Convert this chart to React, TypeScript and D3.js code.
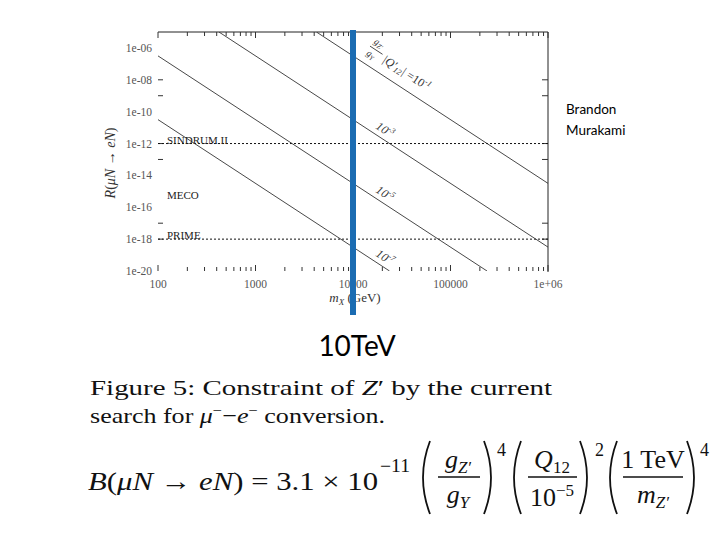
import React from "react";
import * as d3 from "d3";

// ---- data ----
const massMajor = [100, 1000, 10000, 100000, 1000000];
const massLabels = ["100", "1000", "10000", "100000", "1e+06"];
const rateMajor = [1e-6, 1e-8, 1e-10, 1e-12, 1e-14, 1e-16, 1e-18, 1e-20];
const rateLabels = ["1e-06", "1e-08", "1e-10", "1e-12", "1e-14", "1e-16", "1e-18", "1e-20"];
const rateTickMarks = [1e-8, 1e-9, 1e-12, 1e-13, 1e-17, 1e-18];

const couplingExp = ["-1", "-3", "-5", "-7"];
const lineStartMass = [4217, 422, 100, 100];
const lineStartRate = [1e-5, 1e-5, 3.16e-7, 3.16e-11];
const lineEndMass = [1e6, 1e6, 2.37e5, 2.37e4];
const lineEndRate = [3.16e-15, 3.16e-19, 1e-20, 1e-20];
const labelMass = [29000, 19000, 19000, 19000];

const experiments = ["SINDRUM II", "MECO", "PRIME"];
const experimentRate = [1e-12, 1e-16, 1e-18];
const experimentDotted = [true, false, true];
const markerMass = 10000;

// ---- layout ----
const W = 720;
const H = 540;
const X0 = 158, X1 = 548, Y0 = 271, Y1 = 32;
const serif = "'Liberation Serif', 'Times New Roman', serif";
const sans = "Lato, 'Open Sans', sans-serif";

const x = d3.scaleLog().domain([100, 1e6]).range([X0, X1]);
const y = d3.scaleLog().domain([1e-20, 1e-5]).range([Y0, Y1]);

function minorMasses(): number[] {
  const out: number[] = [];
  for (let e = 2; e < 6; e++) for (let k = 1; k < 10; k++) out.push(k * Math.pow(10, e));
  out.push(1e6);
  return out;
}

function Paren({ x0, top, bottom, open }: { x0: number; top: number; bottom: number; open: boolean }) {
  const mid = (top + bottom) / 2;
  const d = open
    ? `M${x0 + 9},${top} Q${x0 - 5},${mid} ${x0 + 9},${bottom}`
    : `M${x0},${top} Q${x0 + 14},${mid} ${x0},${bottom}`;
  return <path d={d} fill="none" stroke="#111" strokeWidth={1.8} />;
}

export default function App() {
  const line = d3
    .line<[number, number]>()
    .x((d) => x(d[0]))
    .y((d) => y(d[1]));

  const slopeAngle = (i: number) => {
    const dx = x(lineEndMass[i]) - x(lineStartMass[i]);
    const dy = y(lineEndRate[i]) - y(lineStartRate[i]);
    return (Math.atan2(dy, dx) * 180) / Math.PI;
  };
  const rateAt = (i: number, m: number) => {
    const lm0 = Math.log10(lineStartMass[i]);
    const lm1 = Math.log10(lineEndMass[i]);
    const lr0 = Math.log10(lineStartRate[i]);
    const lr1 = Math.log10(lineEndRate[i]);
    const t = (Math.log10(m) - lm0) / (lm1 - lm0);
    return Math.pow(10, lr0 + t * (lr1 - lr0));
  };

  const minors = minorMasses();

  return (
    <svg
      width={W}
      height={H}
      style={{ position: "absolute", left: 0, top: 0, background: "#fff" }}
      fontFamily={serif}
    >
      <rect x={0} y={0} width={W} height={H} fill="#fff" />
      <defs>
        <clipPath id="plotClip">
          <rect x={X0} y={Y1} width={X1 - X0} height={Y0 - Y1} />
        </clipPath>
      </defs>

      {/* frame: top and right */}
      <line x1={X0} x2={X1} y1={Y1} y2={Y1} stroke="#222" strokeWidth={1} />
      <line x1={X1} x2={X1} y1={Y1} y2={Y0 + 1} stroke="#222" strokeWidth={1} />

      {/* top & bottom ticks */}
      {minors.map((m, i) => {
        const major = massMajor.includes(m);
        const len = major ? 6 : 4;
        return (
          <g key={"mt" + i}>
            <line x1={x(m)} x2={x(m)} y1={Y1} y2={Y1 + len} stroke="#333" strokeWidth={1} />
            <line x1={x(m)} x2={x(m)} y1={Y0} y2={Y0 - len} stroke="#333" strokeWidth={1} />
          </g>
        );
      })}

      {/* left & right ticks */}
      {rateTickMarks.map((r, i) => (
        <g key={"rt" + i}>
          <line x1={X0} x2={X0 + 5} y1={y(r)} y2={y(r)} stroke="#333" strokeWidth={1} />
          <line x1={X1} x2={X1 - 6} y1={y(r)} y2={y(r)} stroke="#333" strokeWidth={1} />
        </g>
      ))}

      {/* y tick labels */}
      {rateMajor.map((r, i) => (
        <text key={"yl" + i} x={152} y={y(r) + 4} textAnchor="end" fontSize={11.5} fill="#555">
          {rateLabels[i]}
        </text>
      ))}

      {/* x tick labels */}
      {massMajor.map((m, i) => (
        <text key={"xl" + i} x={x(m)} y={288} textAnchor="middle" fontSize={11.5} fill="#555">
          {massLabels[i]}
        </text>
      ))}

      {/* axis titles */}
      <text x={355} y={302} textAnchor="middle" fontSize={13} fill="#333">
        <tspan fontStyle="italic">m</tspan>
        <tspan fontStyle="italic" fontSize={9} dy={3}>X</tspan>
        <tspan dy={-3}> (GeV)</tspan>
      </text>
      <text transform="translate(115,163) rotate(-90)" textAnchor="middle" fontSize={14} fill="#333">
        <tspan fontStyle="italic">R</tspan>
        <tspan>(</tspan>
        <tspan fontStyle="italic">μN</tspan>
        <tspan> → </tspan>
        <tspan fontStyle="italic">eN</tspan>
        <tspan>)</tspan>
      </text>

      {/* experiment limits */}
      {experiments.map((name, i) => (
        <g key={"ex" + i}>
          {experimentDotted[i] && (
            <line
              x1={X0}
              x2={X1}
              y1={y(experimentRate[i])}
              y2={y(experimentRate[i])}
              stroke="#111"
              strokeWidth={1}
              strokeDasharray="2,2"
            />
          )}
          <text
            x={167}
            y={y(experimentRate[i]) - (experimentDotted[i] ? 0 : 8)}
            fontSize={11}
            fill="#222"
          >
            {name}
          </text>
        </g>
      ))}

      {/* diagonal lines */}
      <g clipPath="url(#plotClip)">
        {couplingExp.map((_, i) => (
          <path
            key={"dl" + i}
            d={line([
              [lineStartMass[i], lineStartRate[i]],
              [lineEndMass[i], lineEndRate[i]],
            ]) || ""}
            fill="none"
            stroke="#333"
            strokeWidth={0.9}
          />
        ))}
      </g>

      {/* diagonal labels */}
      {couplingExp.map((ex, i) => {
        const px = x(labelMass[i]);
        const py = y(rateAt(i, labelMass[i]));
        const ang = slopeAngle(i);
        if (i === 0) {
          return (
            <g key={"lab" + i} transform={`translate(${px},${py}) rotate(${ang})`} fill="#333" fontStyle="italic">
              <text x={-44} y={-22} fontSize={9.5}>g<tspan fontSize={7} dy={2}>Z′</tspan></text>
              <line x1={-45} x2={-30} y1={-17.5} y2={-17.5} stroke="#333" strokeWidth={0.8} />
              <text x={-44} y={-8} fontSize={9.5}>g<tspan fontSize={7} dy={2}>Y</tspan></text>
              <text x={-27} y={-11} fontSize={12}>
                |Q′<tspan fontSize={8} dy={2}>12</tspan><tspan dy={-2}>|</tspan>
                <tspan fontStyle="normal"> =10</tspan>
                <tspan fontSize={8} dy={-5}>{ex}</tspan>
              </text>
            </g>
          );
        }
        return (
          <g key={"lab" + i} transform={`translate(${px},${py}) rotate(${ang})`} fill="#333">
            <text x={0} y={-5} textAnchor="middle" fontSize={12} fontStyle="italic">
              10<tspan fontSize={8} dy={-5}>{ex}</tspan>
            </text>
          </g>
        );
      })}

      {/* 10 TeV marker */}
      <rect x={x(markerMass) - 3} y={30} width={6} height={285} fill="#1B6CB2" />
      <text x={357} y={356} textAnchor="middle" fontSize={28} fontFamily={sans} fill="#000">
        10TeV
      </text>

      {/* author */}
      <text x={566} y={114} fontSize={13.5} fontFamily={sans} fill="#000">Brandon</text>
      <text x={566} y={135} fontSize={13.5} fontFamily={sans} fill="#000">Murakami</text>

      {/* caption */}
      <text x={90} y={395} fontSize={22} fill="#111" textLength={462} lengthAdjust="spacingAndGlyphs">
        Figure 5:  Constraint  of  <tspan fontStyle="italic">Z</tspan>′  by  the  current
      </text>
      <text x={90} y={423} fontSize={22} fill="#111" textLength={295} lengthAdjust="spacingAndGlyphs">
        search for <tspan fontStyle="italic">μ</tspan>
        <tspan fontSize={14} dy={-8}>−</tspan>
        <tspan dy={8}>−</tspan>
        <tspan fontStyle="italic">e</tspan>
        <tspan fontSize={14} dy={-8}>−</tspan>
        <tspan dy={8}> conversion.</tspan>
      </text>

      {/* formula */}
      <g fill="#111" fontSize={26}>
        <text x={88} y={490} textLength={290} lengthAdjust="spacingAndGlyphs">
          <tspan fontStyle="italic">B</tspan>(<tspan fontStyle="italic">μN</tspan> → <tspan fontStyle="italic">eN</tspan>) = 3.1 × 10
        </text>
        <text x={380} y={472} fontSize={18} textLength={30} lengthAdjust="spacingAndGlyphs">−11</text>

        <Paren x0={421} top={441} bottom={514} open={true} />
        <text x={458} y={468} textAnchor="middle">
          <tspan fontStyle="italic">g</tspan>
          <tspan fontSize={17} dy={5} fontStyle="italic">Z′</tspan>
        </text>
        <line x1={438} x2={480} y1={477} y2={477} stroke="#111" strokeWidth={1.3} />
        <text x={458} y={503} textAnchor="middle">
          <tspan fontStyle="italic">g</tspan>
          <tspan fontSize={17} dy={5} fontStyle="italic">Y</tspan>
        </text>
        <Paren x0={484} top={441} bottom={514} open={false} />
        <text x={497} y={456} fontSize={18}>4</text>

        <Paren x0={512} top={441} bottom={514} open={true} />
        <text x={552} y={468} textAnchor="middle">
          <tspan fontStyle="italic">Q</tspan>
          <tspan fontSize={17} dy={5}>12</tspan>
        </text>
        <line x1={528} x2={577} y1={477} y2={477} stroke="#111" strokeWidth={1.3} />
        <text x={552} y={506} textAnchor="middle">
          10<tspan fontSize={17} dy={-10}>−5</tspan>
        </text>
        <Paren x0={580} top={441} bottom={514} open={false} />
        <text x={595} y={456} fontSize={18}>2</text>

        <Paren x0={608} top={441} bottom={514} open={true} />
        <text x={653} y={468} textAnchor="middle">1 TeV</text>
        <line x1={623} x2={683} y1={477} y2={477} stroke="#111" strokeWidth={1.3} />
        <text x={653} y={503} textAnchor="middle">
          <tspan fontStyle="italic">m</tspan>
          <tspan fontSize={17} dy={5} fontStyle="italic">Z′</tspan>
        </text>
        <Paren x0={687} top={441} bottom={514} open={false} />
        <text x={700} y={456} fontSize={18}>4</text>
      </g>
    </svg>
  );
}
